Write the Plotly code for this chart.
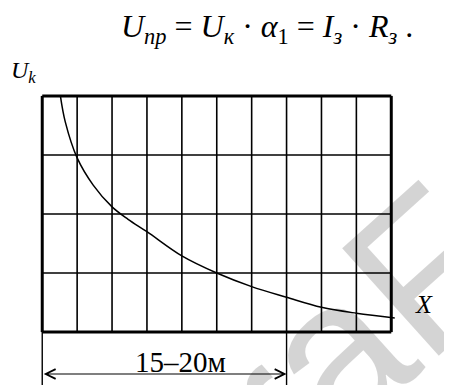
import plotly.graph_objects as go

# ---- data ----
curve_x = [0.52, 0.66, 1.0, 1.46, 2.0, 2.46, 3.0, 4.0, 5.0, 6.0, 7.0, 8.0, 9.0, 10.1]
curve_y = [4.0, 3.56, 2.95, 2.49, 2.12, 1.91, 1.70, 1.29, 1.00, 0.77, 0.59, 0.42, 0.32, 0.24]
grid_cols = list(range(0, 11))
grid_rows = list(range(0, 5))
dim_start, dim_end = 0, 7
dim_label = "15–20м"
formula = ("<i>U</i><sub><i>пр</i></sub> = <i>U</i><sub><i>к</i></sub> · "
           "<i>α</i><sub>1</sub> = <i>I</i><sub><i>з</i></sub> · <i>R</i><sub><i>з</i></sub> .")
y_label = "<i>U</i><sub><i>k</i></sub>"
x_label = "<i>X</i>"
watermark = "raF"

W, H = 452, 385
OFF = 8  # default page body margin
ML, MR, MT, MB = 37 - OFF, 52 + OFF, 90 - OFF, 47 + OFF
XR = [-0.15, 10.25]
YR = [-0.1, 4.1]
PW, PH = W - ML - MR, H - MT - MB
UX = PW / (XR[1] - XR[0])
UY = PH / (YR[1] - YR[0])

def px_x(px):
    return (px - OFF - ML) / PW

def px_y(py):
    return (H - MB - (py - OFF)) / PH

def px_dx(px):
    return XR[0] + (px - OFF - ML) / UX

def px_dy(py):
    return YR[0] + (H - MB - (py - OFF)) / UY

def dx(d):
    return (d - XR[0]) / (XR[1] - XR[0])

def dy(d):
    return (d - YR[0]) / (YR[1] - YR[0])

FONT = "Liberation Serif"

fig = go.Figure()
fig.add_trace(go.Scatter(x=curve_x, y=curve_y, mode="lines",
                         line=dict(color="black", width=1.5, shape="spline", smoothing=1),
                         hoverinfo="skip", showlegend=False))

shapes = []
for c in grid_cols:
    border = c in (grid_cols[0], grid_cols[-1])
    shapes.append(dict(type="line", xref="x", yref="y", x0=c, x1=c, y0=grid_rows[0], y1=grid_rows[-1],
                       line=dict(color="black", width=3 if border else 1.6)))
for r in grid_rows:
    border = r in (grid_rows[0], grid_rows[-1])
    shapes.append(dict(type="line", xref="x", yref="y", x0=grid_cols[0], x1=grid_cols[-1], y0=r, y1=r,
                       line=dict(color="black", width=3 if border else 1.6)))
# dimension extension lines
for d in (dim_start, dim_end):
    shapes.append(dict(type="line", xref="paper", yref="paper", x0=dx(d), x1=dx(d),
                       y0=dy(0), y1=px_y(H + 2), line=dict(color="black", width=1.4)))

annotations = [
    # watermark (semi-transparent black so lines stay black)
    dict(text=watermark, xref="x", yref="y", x=px_dx(355), y=px_dy(333),
         showarrow=False, textangle=-42, font=dict(family="Liberation Sans", size=210, color="rgba(0,0,0,0.17)")),
    dict(text=formula, xref="paper", yref="paper", x=px_x(267), y=px_y(28), xanchor="center", yanchor="middle",
         showarrow=False, font=dict(family=FONT, size=32, color="black")),
    dict(text=y_label, xref="paper", yref="paper", x=px_x(9), y=px_y(72), xanchor="left", yanchor="middle",
         showarrow=False, font=dict(family=FONT, size=24, color="black")),
    dict(text=x_label, xref="paper", yref="paper", x=px_x(424), y=px_y(304), xanchor="center", yanchor="middle",
         showarrow=False, font=dict(family=FONT, size=26, color="black")),
    dict(text=dim_label, xref="paper", yref="paper", x=px_x(180), y=px_y(362), xanchor="center", yanchor="middle",
         showarrow=False, font=dict(family=FONT, size=29, color="black")),
    dict(text="", xref="paper", yref="paper", x=dx(dim_end), y=px_y(374),
         ax=-(dim_end - dim_start) * UX, ay=0, axref="pixel", ayref="pixel",
         showarrow=True, arrowhead=5, startarrowhead=5, arrowside="end+start",
         arrowsize=1.6, startarrowsize=1.6, arrowwidth=1.2, arrowcolor="black", standoff=0, startstandoff=0),
]

fig.update_layout(
    width=W, height=H, margin=dict(l=ML, r=MR, t=MT, b=MB),
    paper_bgcolor="white", plot_bgcolor="white",
    xaxis=dict(range=XR, visible=False, fixedrange=True),
    yaxis=dict(range=YR, visible=False, fixedrange=True),
    shapes=shapes, annotations=annotations, showlegend=False,
)
fig.write_html("out.html")
